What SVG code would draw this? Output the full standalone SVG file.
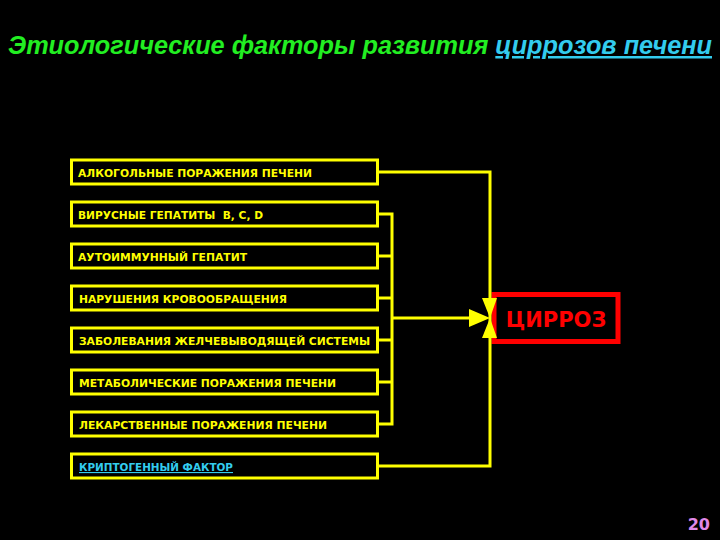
<svg xmlns="http://www.w3.org/2000/svg" width="720" height="540" viewBox="0 0 720 540">
<style>
.box{fill:#000;stroke:#ffff00;stroke-width:3}
.lbl{font-family:"DejaVu Sans",sans-serif;font-weight:bold;font-size:11px;fill:#ffff00}
.link{fill:#33ccee;text-decoration:underline}
.con{fill:none;stroke:#ffff00;stroke-width:3}
.head{fill:#ffff00}
</style>
<rect width="720" height="540" fill="#000"/>
<text x="8" y="54" font-family="Liberation Sans, sans-serif" font-weight="bold" font-style="italic" font-size="25" textLength="704" lengthAdjust="spacingAndGlyphs"><tspan fill="#22ee22">Этиологические факторы развития </tspan><tspan fill="#33ccee" text-decoration="underline">циррозов печени</tspan></text>

<g id="n1"><rect class="box" x="71.5" y="160" width="306" height="24"/><text class="lbl" x="78" y="177" textLength="234" lengthAdjust="spacingAndGlyphs">АЛКОГОЛЬНЫЕ ПОРАЖЕНИЯ ПЕЧЕНИ</text></g>
<g id="n2"><rect class="box" x="71.5" y="202" width="306" height="24"/><text class="lbl" x="78" y="219" xml:space="preserve" textLength="185" lengthAdjust="spacingAndGlyphs">ВИРУСНЫЕ ГЕПАТИТЫ  B, C, D</text></g>
<g id="n3"><rect class="box" x="71.5" y="244" width="306" height="24"/><text class="lbl" x="78" y="261" textLength="169" lengthAdjust="spacingAndGlyphs">АУТОИММУННЫЙ ГЕПАТИТ</text></g>
<g id="n4"><rect class="box" x="71.5" y="286" width="306" height="24"/><text class="lbl" x="79" y="303" textLength="208" lengthAdjust="spacingAndGlyphs">НАРУШЕНИЯ КРОВООБРАЩЕНИЯ</text></g>
<g id="n5"><rect class="box" x="71.5" y="328" width="306" height="24"/><text class="lbl" x="79" y="345" textLength="291" lengthAdjust="spacingAndGlyphs">ЗАБОЛЕВАНИЯ ЖЕЛЧЕВЫВОДЯЩЕЙ СИСТЕМЫ</text></g>
<g id="n6"><rect class="box" x="71.5" y="370" width="306" height="24"/><text class="lbl" x="79" y="387" textLength="257" lengthAdjust="spacingAndGlyphs">МЕТАБОЛИЧЕСКИЕ ПОРАЖЕНИЯ ПЕЧЕНИ</text></g>
<g id="n7"><rect class="box" x="71.5" y="412" width="306" height="24"/><text class="lbl" x="79" y="429" textLength="248" lengthAdjust="spacingAndGlyphs">ЛЕКАРСТВЕННЫЕ ПОРАЖЕНИЯ ПЕЧЕНИ</text></g>
<g id="n8"><rect class="box" x="71.5" y="454" width="306" height="24"/><text class="lbl link" x="79" y="471" textLength="154" lengthAdjust="spacingAndGlyphs">КРИПТОГЕННЫЙ ФАКТОР</text></g>

<g id="cirrhosis"><rect x="494" y="294.5" width="124" height="47" fill="#000" stroke="#ff0000" stroke-width="5"/><text x="556" y="327" text-anchor="middle" font-family="DejaVu Sans, sans-serif" font-weight="bold" font-size="21" fill="#ff0000">ЦИРРОЗ</text></g>

<g id="connectors">
<polyline class="con" points="378,172 490,172 490,466 378,466"/>
<polyline class="con" points="378,214 392,214 392,424 378,424"/>
<line class="con" x1="378" y1="256" x2="392" y2="256"/>
<line class="con" x1="378" y1="298" x2="392" y2="298"/>
<line class="con" x1="378" y1="340" x2="392" y2="340"/>
<line class="con" x1="378" y1="382" x2="392" y2="382"/>
<line class="con" x1="392" y1="318" x2="472" y2="318"/>
<polygon class="head" points="469,309 490,318 469,327"/>
<polygon class="head" points="482,298 497,298 490,318"/>
<polygon class="head" points="482,338 497,338 490,318"/>
</g>

<text x="710" y="530" text-anchor="end" font-family="DejaVu Sans, sans-serif" font-weight="bold" font-size="16" fill="#e088e8">20</text>
</svg>
